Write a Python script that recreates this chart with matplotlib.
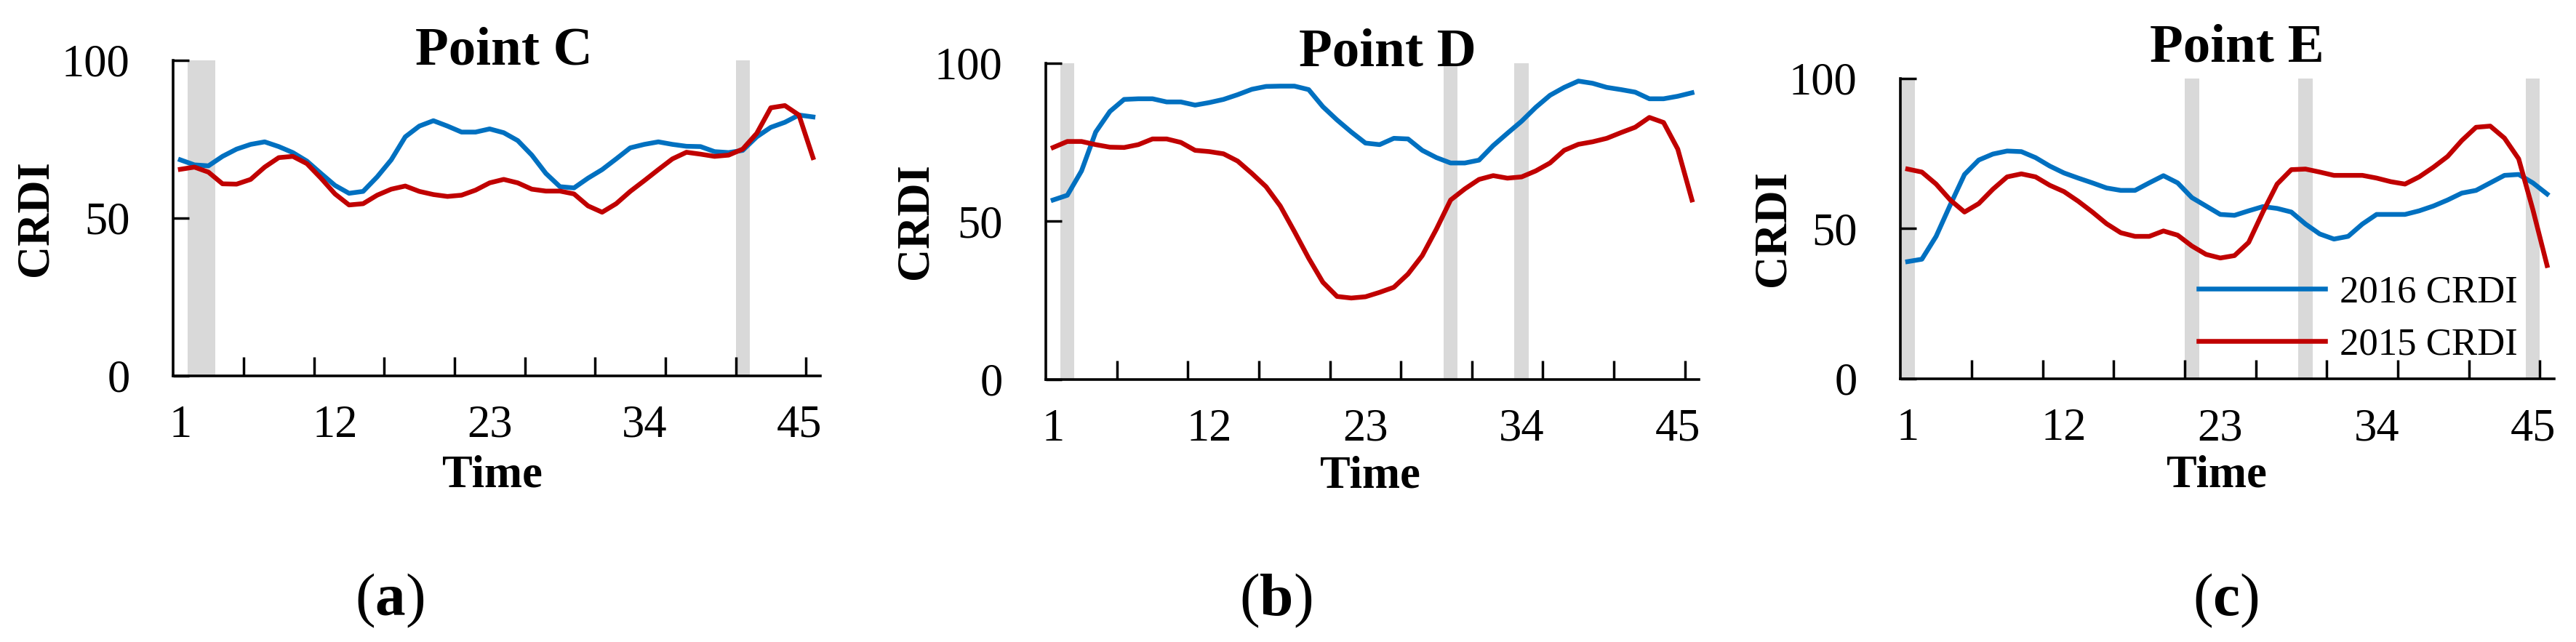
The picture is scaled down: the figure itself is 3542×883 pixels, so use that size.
import numpy as np
import matplotlib.pyplot as plt

plt.rcParams['font.family'] = ['Liberation Serif', 'DejaVu Serif']
plt.rcParams['mathtext.fontset'] = 'custom'
plt.rcParams['mathtext.rm'] = 'Liberation Serif'
plt.rcParams['mathtext.bf'] = 'Liberation Serif:bold'

time = np.arange(1, 47)
tick_pos = [1, 12, 23, 34, 45]
tick_labels = ['1', '12', '23', '34', '45']

# Point C
crdi16_c = [68.4, 66.8, 66.5, 69.5, 71.8, 73.3, 74.1, 72.6, 70.7, 68.0,
            64.1, 60.3, 57.8, 58.4, 63.0, 68.4, 75.7, 79.1, 80.8, 79.1,
            77.2, 77.2, 78.2, 77.0, 74.5, 69.9, 64.1, 59.9, 59.5, 62.6,
            65.3, 68.7, 72.2, 73.3, 74.1, 73.3, 72.7, 72.6, 71.0, 70.7,
            71.4, 75.7, 78.7, 80.3, 82.6, 82.0]
crdi15_c = [65.4, 66.1, 64.5, 60.8, 60.7, 62.2, 66.1, 69.1, 69.5, 67.2,
            62.6, 57.6, 54.1, 54.5, 57.2, 59.1, 60.1, 58.4, 57.4, 56.8,
            57.2, 58.8, 61.1, 62.2, 61.1, 59.1, 58.5, 58.5, 57.6, 53.8,
            51.8, 54.5, 58.4, 61.8, 65.3, 68.7, 70.8, 70.2, 69.5, 69.9,
            71.8, 76.8, 84.9, 85.6, 82.6, 69.1]
events_c = [2, 3, 41]

# Point D
crdi16_d = [56.7, 58.2, 65.9, 78.2, 84.7, 88.5, 88.7, 88.7, 87.7, 87.7,
            86.7, 87.5, 88.5, 90.0, 91.7, 92.6, 92.7, 92.7, 91.6, 86.2,
            82.0, 78.2, 74.7, 74.2, 76.2, 76.0, 72.4, 70.1, 68.4, 68.4,
            69.3, 73.9, 77.8, 81.6, 86.0, 89.8, 92.3, 94.3, 93.6, 92.3,
            91.6, 90.8, 88.7, 88.7, 89.5, 90.6]
crdi15_d = [73.3, 75.2, 75.2, 74.2, 73.4, 73.3, 74.2, 76.0, 76.0, 74.9,
            72.4, 72.0, 71.3, 69.0, 65.1, 60.9, 54.8, 46.7, 38.3, 30.7,
            26.2, 25.7, 26.1, 27.5, 29.1, 33.3, 39.1, 47.5, 56.7, 60.2,
            63.2, 64.4, 63.6, 64.0, 65.9, 68.4, 72.4, 74.3, 75.1, 76.2,
            78.0, 79.7, 82.8, 81.2, 72.8, 56.7]
events_d = [2, 29, 34]

# Point E
crdi16_e = [39.0, 39.8, 47.4, 57.9, 68.0, 72.8, 74.8, 75.8, 75.6, 73.6,
            70.8, 68.5, 66.8, 65.2, 63.5, 62.7, 62.7, 65.2, 67.6, 65.2,
            60.3, 57.5, 54.7, 54.4, 55.9, 57.3, 56.7, 55.5, 51.5, 48.2,
            46.5, 47.4, 51.5, 54.7, 54.7, 54.7, 55.9, 57.5, 59.5, 61.8,
            62.7, 65.2, 67.7, 68.0, 65.2, 61.5]
crdi15_e = [69.8, 68.8, 64.8, 59.5, 55.5, 58.3, 63.1, 67.2, 68.2, 67.2,
            64.4, 62.3, 59.1, 55.5, 51.6, 48.6, 47.4, 47.4, 49.2, 47.8,
            44.2, 41.4, 40.2, 41.0, 45.4, 55.5, 64.8, 69.6, 69.8, 68.8,
            67.7, 67.7, 67.7, 66.8, 65.6, 64.8, 67.2, 70.4, 74.0, 79.3,
            83.7, 84.1, 80.1, 73.2, 56.3, 37.7]
events_e = [1, 21, 29, 45]

panels = [
    ('Point C', crdi16_c, crdi15_c, events_c, 'a'),
    ('Point D', crdi16_d, crdi15_d, events_d, 'b'),
    ('Point E', crdi16_e, crdi15_e, events_e, 'c'),
]

# layout (figure fractions) and text placement
boxes = [[0.06728, 0.41484, 0.25105, 0.49151],
         [0.40607, 0.40917, 0.25350, 0.49264],
         [0.73780, 0.40997, 0.25373, 0.46806]]
title_xy = [(0.511, 0.9855), (0.523, 0.9924), (0.515, 1.0573)]
ylab_x = [-0.212, -0.199, -0.195]
xlab_xy = [(0.493, -0.353), (0.496, -0.341), (0.484, -0.3605)]
sub_x = [0.1513, 0.4952, 0.8640]

blue = '#0070C0'
red = '#C00000'
grey = '#D9D9D9'

fig = plt.figure(figsize=(35.42, 8.83), dpi=100)

for i, (name, c16, c15, ev, tag) in enumerate(panels):
    ax = fig.add_axes(boxes[i])
    ax.bar(ev, np.full(len(ev), 100), width=1.0, color=grey, zorder=1)
    ax.plot(time, c16, color=blue, lw=4.7, zorder=3, label='2016 CRDI')
    ax.plot(time, c15, color=red, lw=4.7, zorder=4, label='2015 CRDI')

    ax.set_xlim(0.5, 46.5)
    ax.set_ylim(0, 100)
    ax.spines['top'].set_visible(False)
    ax.spines['right'].set_visible(False)
    ax.spines['left'].set_linewidth(2.6)
    ax.spines['bottom'].set_linewidth(2.6)

    ax.set_xticks(tick_pos)
    ax.set_xticklabels(tick_labels)
    ax.set_xticks(np.arange(5.5, 46, 5), minor=True)
    ax.tick_params(axis='x', which='major', length=0, pad=29, labelsize=45)
    ax.tick_params(axis='x', which='minor', direction='in', length=19, width=2.5)
    ax.set_yticks([0, 50, 100])
    ax.tick_params(axis='y', direction='in', length=16, width=2.5, pad=43, labelsize=45)

    ax.set_title(name, fontsize=54, fontweight='bold', x=title_xy[i][0],
                 y=title_xy[i][1], va='baseline', pad=0)
    ax.set_ylabel('CRDI', fontsize=45, fontweight='bold')
    ax.yaxis.set_label_coords(ylab_x[i], 0.5)
    ax.yaxis.label.set_va('center')
    ax.set_xlabel('Time', fontsize=45, fontweight='bold')
    ax.xaxis.set_label_coords(*xlab_xy[i])
    ax.xaxis.label.set_va('baseline')

    fig.text(sub_x[i], 0.0646, r'($\mathbf{%s}$)' % tag, fontsize=60,
             ha='center', va='center')

    if tag == 'c':
        ax.legend(loc='center left', bbox_to_anchor=(0.8535, 0.5035),
                  bbox_transform=fig.transFigure, frameon=False, fontsize=38,
                  handlelength=3.3, handletextpad=0.38, labelspacing=0.45,
                  borderpad=0, borderaxespad=0)

fig.savefig('out.png', dpi=100)
